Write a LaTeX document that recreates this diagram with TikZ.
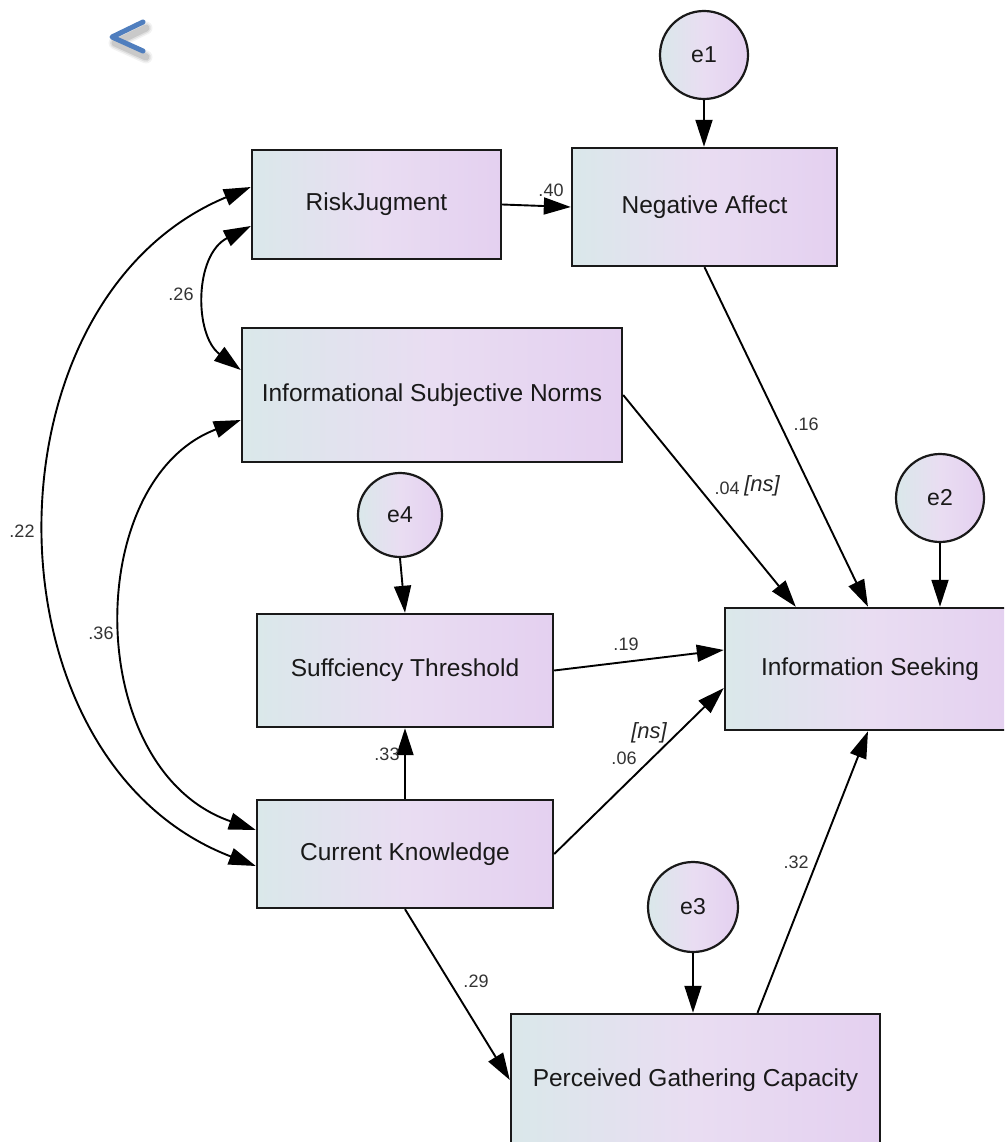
\documentclass[tikz,border=0pt]{standalone}
\usepackage{fontspec}
\setmainfont{Liberation Sans}
\usetikzlibrary{arrows.meta,calc}
\definecolor{cL}{RGB}{218,232,234}
\definecolor{cM}{RGB}{233,221,242}
\definecolor{cR}{RGB}{228,208,240}
\definecolor{chev}{RGB}{79,126,190}
\tikzset{
  box/.style={draw=black!90, line width=2.4pt, rectangle, left color=cL, right color=cR, middle color=cM,
    inner sep=0pt, font=\fontsize{24.5}{28}\selectfont, text=black!90},
  err/.style={circle, draw=black!90, line width=2.2pt, minimum size=88pt, inner sep=0pt,
    left color=cL, right color=cR, middle color=cM, font=\fontsize{23}{26}\selectfont, text=black!90},
  arr/.style={line width=1.9pt, draw=black, -{Triangle[length=27pt,width=17pt]}},
  darr/.style={line width=1.9pt, draw=black, {Triangle[length=27pt,width=17pt]}-{Triangle[length=27pt,width=17pt]}},
  lab/.style={font=\fontsize{18}{21}\selectfont, text=black!80, inner sep=0pt},
  nslab/.style={font=\fontsize{22}{25}\selectfont\itshape, text=black!85, inner sep=0pt}
}
\begin{document}
\begin{tikzpicture}[x=1pt,y=-1pt]
\useasboundingbox (0,0) rectangle (1004,1142);
\fill[white] (0,0) rectangle (1004,1142);
\clip (0,0) rectangle (1004,1142);

% chevron with soft shadow
\foreach \w/\o in {13/0.05,10/0.07,7/0.10}{
  \draw[line width=\w pt, line cap=round, line join=round, black, opacity=\o] (146,28) -- (115,43) -- (146,57);
}
\draw[line width=5pt, line cap=round, line join=round, chev] (143,22) -- (112,37) -- (143,51);

% nodes
\node[box, minimum width=249pt, minimum height=109pt] (RJ) at (376.5,204.5) {RiskJugment};
\node[box, minimum width=265pt, minimum height=118pt] (NA) at (704.5,207) {Negative Affect};
\node[box, minimum width=380pt, minimum height=134pt] (ISN) at (432,395) {Informational Subjective Norms};
\node[box, minimum width=290pt, minimum height=122pt] (IS) at (870,669) {Information Seeking};
\node[box, minimum width=296pt, minimum height=113pt] (ST) at (405,670.5) {Suffciency Threshold};
\node[box, minimum width=296pt, minimum height=108pt] (CK) at (405,854) {Current Knowledge};
\node[box, minimum width=369pt, minimum height=132pt] (PGC) at (695.5,1080) {Perceived Gathering Capacity};

\node[err] (e1) at (704,55) {e1};
\node[err] (e2) at (940,498) {e2};
\node[err, minimum size=84pt] (e4) at (400,515) {e4};
\node[err, minimum size=90pt] (e3) at (693,907) {e3};

% directed paths
\draw[arr] (e1.south) -- (e1.south |- NA.north);
\draw[arr] (RJ.east) -- (NA.west);
\draw[arr] (NA.south) -- ([xshift=-2pt]IS.north);
\draw[arr] (ISN.east) -- ([xshift=72pt]IS.north west);
\draw[arr] (e2.south) -- (e2.south |- IS.north);
\draw[arr] (e4.south) -- (ST.north);
\draw[arr] (ST.east) -- ([yshift=19pt]IS.west);
\draw[arr] (CK.east) -- ([yshift=-19pt]IS.west);
\draw[arr] (CK.north) -- (ST.south);
\draw[arr] (CK.south) -- (PGC.west);
\draw[arr] ([xshift=62pt]PGC.north) -- ([xshift=-2pt]IS.south);
\draw[arr] (e3.south) -- (e3.south |- PGC.north);

% covariances
\draw[darr] ([yshift=17.5pt]RJ.west) .. controls (-21,300) and (-21,760) .. ([yshift=-12pt]CK.west);
\draw[darr] ([yshift=-21.5pt]RJ.west) .. controls (194,255) and (194,335) .. ([yshift=25pt]ISN.west);
\draw[darr] ([yshift=-25pt]ISN.west) .. controls (82,480) and (82,770) .. ([yshift=24pt]CK.west);

% labels
\node[lab] (l40) at (551,190) {.40};
\node[lab] (l16) at (806,424) {.16};
\node[lab] (l04) at (727,488) {.04};
\node[nslab] (ns1) at (762,486) {[ns]};
\node[lab] (l19) at (626,644) {.19};
\node[nslab] (ns2) at (649,733) {[ns]};
\node[lab] (l06) at (624,758) {.06};
\node[lab] (l26) at (181,294) {.26};
\node[lab] (l22) at (22,531) {.22};
\node[lab] (l36) at (101,633) {.36};
\node[lab] (l33) at (387,754) {.33};
\node[lab] (l29) at (476,981) {.29};
\node[lab] (l32) at (796,862) {.32};
\end{tikzpicture}
\end{document}
